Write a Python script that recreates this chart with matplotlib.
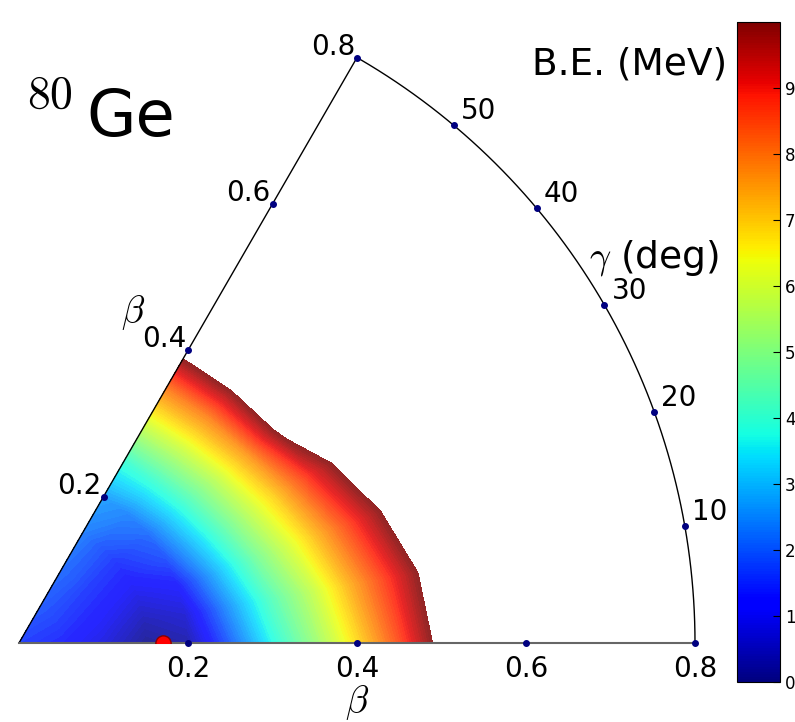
import numpy as np
import matplotlib
matplotlib.use("Agg")
import matplotlib.pyplot as plt
from matplotlib.colors import ListedColormap

plt.rcParams['mathtext.fontset'] = 'cm'

# energy surface (MeV), rows = gamma, cols = beta
beta = [0.0, 0.05, 0.10, 0.15, 0.20, 0.25, 0.30, 0.35, 0.40, 0.45, 0.50, 0.55, 0.60]
gamma = [0, 10, 20, 30, 40, 50, 60]
e_g0 = [1.6, 1.3, 0.8, 0.1, 0.3, 2.0, 3.7, 5.2, 6.8, 8.5, 10.4, 12.5, 15.0]
e_g10 = [1.6, 1.4, 1.0, 0.4, 0.7, 2.5, 4.2, 5.7, 7.4, 9.0, 10.7, 12.8, 15.0]
e_g20 = [1.6, 1.5, 1.2, 0.8, 1.2, 3.0, 4.8, 6.4, 8.1, 9.8, 11.6, 13.5, 15.5]
e_g30 = [1.6, 1.6, 1.4, 1.2, 1.8, 3.5, 5.3, 7.0, 9.0, 10.9, 13.0, 15.0, 17.0]
e_g40 = [1.6, 1.7, 1.6, 1.5, 2.1, 3.8, 5.6, 7.6, 10.4, 13.0, 15.5, 17.5, 19.5]
e_g50 = [1.6, 1.8, 1.9, 1.9, 2.4, 4.0, 5.9, 7.9, 10.5, 13.0, 15.5, 17.5, 19.5]
e_g60 = [1.6, 1.9, 2.1, 2.3, 2.7, 4.0, 6.0, 8.0, 10.6, 13.0, 15.5, 17.5, 19.5]
energy = np.array([e_g0, e_g10, e_g20, e_g30, e_g40, e_g50, e_g60])

# minimum of the surface
min_beta, min_gamma = 0.17, 0

beta_ticks = [0.2, 0.4, 0.6, 0.8]
gamma_ticks = [10, 20, 30, 40, 50]
cbar_ticks = list(range(10))

B, G = np.meshgrid(beta, np.radians(gamma))
X = B * np.cos(G)
Y = B * np.sin(G)

# slightly washed-out jet for the surface (the colorbar keeps plain jet)
jet = plt.get_cmap('jet')
cols = jet(np.linspace(0, 1, 256))[:, :3]
a = 0.85
soft = ListedColormap(a * cols + (1 - a))

fig = plt.figure(figsize=(7.95, 7.22), dpi=100)
W, H = 795, 722
ox, oy, sc = 19, 643, 845  # origin and pixels per unit beta
ax = fig.add_axes([ox / W, (H - oy) / H, 700 / W, 633 / H])
ax.set_xlim(0, 700 / sc)
ax.set_ylim(0, 633 / sc)
ax.axis('off')

levels = np.linspace(0, 10, 101)
cf = ax.contourf(X, Y, energy, levels=levels, cmap=soft, vmin=0, vmax=10)

# sector frame
bmax = 0.8
t = np.radians(np.linspace(0, 60, 200))
ax.plot(bmax * np.cos(t), bmax * np.sin(t), color='k', lw=1, clip_on=False)
g60 = np.radians(60)
ax.plot([0, bmax * np.cos(g60)], [0, bmax * np.sin(g60)], color='k', lw=1, clip_on=False)
ax.plot([0, bmax], [0, 0], color='0.4', lw=1.5, clip_on=False)

# tick dots and labels along gamma = 0
for b in beta_ticks:
    ax.plot(b, 0, 'o', color='navy', ms=4, clip_on=False, zorder=5)
    ax.annotate(f"{b:.1f}", (b, 0), xytext=(0, -12), textcoords='offset pixels',
                ha='center', va='top', fontsize=20, annotation_clip=False)

# along gamma = 60
for b in beta_ticks:
    px, py = b * np.cos(g60), b * np.sin(g60)
    ax.plot(px, py, 'o', color='navy', ms=4, clip_on=False, zorder=5)
    ax.annotate(f"{b:.1f}", (px, py), xytext=(-2, -3), textcoords='offset pixels',
                ha='right', va='bottom', fontsize=20, annotation_clip=False)

# along the arc
for g in gamma_ticks:
    gr = np.radians(g)
    px, py = bmax * np.cos(gr), bmax * np.sin(gr)
    ax.plot(px, py, 'o', color='navy', ms=4, clip_on=False, zorder=5)
    ax.annotate(f"{g}", (px, py), xytext=(7, 0), textcoords='offset pixels',
                ha='left', va='bottom', fontsize=20, annotation_clip=False)

# minimum
ax.plot(min_beta * np.cos(np.radians(min_gamma)), 0, 'o', color='red',
        mec='darkred', ms=11, zorder=6)

# labels
fig.text(357 / W, 1 - 702 / H, r'$\beta$', fontsize=27, ha='center', va='center')
fig.text(133 / W, 1 - 313 / H, r'$\beta$', fontsize=27, ha='center', va='center')
fig.text(589 / W, 1 - 258 / H, r'$\gamma$ (deg)', fontsize=27, ha='left', va='center')
fig.text(727 / W, 1 - 65 / H, 'B.E. (MeV)', fontsize=27, ha='right', va='center')
fig.text(27 / W, 1 - 108 / H, r'$80$', fontsize=33, ha='left', va='baseline')
fig.text(86 / W, 1 - 136 / H, 'Ge', fontsize=46, ha='left', va='baseline')

# colorbar
cax = fig.add_axes([737 / W, (H - 682) / H, 43 / W, 660 / H])
sm = plt.cm.ScalarMappable(cmap='jet', norm=plt.Normalize(0, 10))
cb = fig.colorbar(sm, cax=cax, ticks=cbar_ticks)
cb.ax.tick_params(labelsize=12, direction='in', length=5)

fig.savefig("out.png", dpi=100)
